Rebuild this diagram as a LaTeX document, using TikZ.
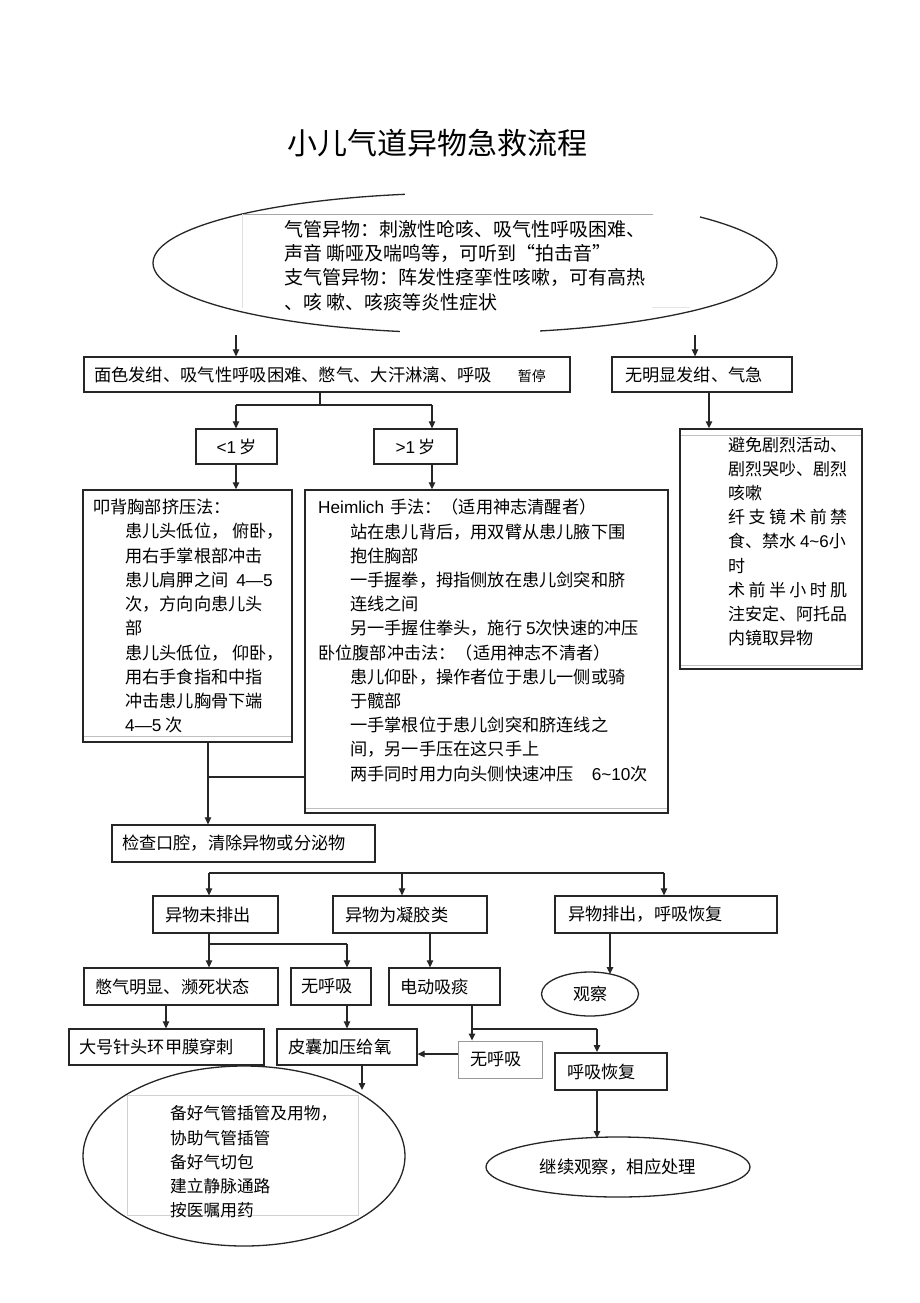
\documentclass[tikz,border=0pt]{standalone}
\usepackage{fontspec}
\usetikzlibrary{arrows.meta,shapes.geometric}
\newfontfamily\hei{Noto Sans CJK SC}
\IfFontExistsTF{FandolSong-Regular.otf}{\newfontfamily\song{FandolSong-Regular.otf}}{\newfontfamily\song{Noto Sans CJK SC}}
\newfontfamily\ar{Liberation Sans}
\newcommand\myfs[1]{\fontsize{#1}{#1}\selectfont}
\begin{document}
\begin{tikzpicture}[x=1pt,y=-1pt,
  box/.style={draw=black!85, line width=1.3pt, inner ysep=0pt, align=left, font=\song\myfs{17.2}},
  arr/.style={draw=black!85, line width=1.2pt, -{Triangle[length=7pt,width=6.5pt]}},
  ln/.style={draw=black!85, line width=1.2pt},
  oval/.style={draw=black!85, line width=1.3pt, ellipse, inner sep=0pt},
  txt/.style={inner sep=0pt, anchor=north west, align=left}]
\useasboundingbox (0,0) rectangle (920,1303);
\fill[white] (0,0) rectangle (920,1303);

% title
\node[font=\hei\myfs{30}, inner sep=0pt] (title) at (437,143) {小儿气道异物急救流程};

% top ellipse
\node[oval, minimum width=624pt, minimum height=140pt] (sym) at (465,263) {};
\fill[white] (405,180) rectangle (700,219);
\fill[white] (400,320) rectangle (540,340);
\draw[gray!70, line width=0.7pt] (242,214) -- (653,214);
\draw[gray!25, line width=0.7pt] (242,214) -- (242,308);
\draw[gray!20, line width=0.7pt] (652,307) -- (690,307);
\node[txt, font=\hei\fontsize{19}{24.3}\selectfont] (symtxt) at (284,220) {%
气管异物：刺激性呛咳、吸气性呼吸困难、\\
声音 嘶哑及喘鸣等，可听到“拍击音”\\
支气管异物：阵发性痉挛性咳嗽，可有高热\\
、咳 嗽、咳痰等炎性症状};

% row 1
\node[box, minimum width=486pt, minimum height=35pt, text width=466pt, inner xsep=10pt, font=\song\myfs{17.3}] (b1) at (327,374.5)
  {\mbox{面色发绀、吸气性呼吸困难、憋气、大汗淋漓、呼吸\hspace{26pt}{\myfs{14}暂停}}};
\node[box, minimum width=180pt, minimum height=35pt, text width=154pt, inner xsep=13pt] (b2) at (702,374.5) {无明显发绀、气急};

% age boxes
\node[box, minimum width=81pt, minimum height=35pt, text width=71pt, inner xsep=5pt, align=center] (lt1) at (236.5,446.5) {{\ar <1}\,岁};
\node[box, minimum width=83pt, minimum height=35pt, text width=73pt, inner xsep=5pt, align=center] (gt1) at (415.5,446.5) {{\ar >1}\,岁};

% method boxes
\node[box, minimum width=209pt, minimum height=252pt, line width=1.5pt] (m1) at (187.5,616) {};
\draw[gray!50, line width=0.8pt] (84,736) -- (291,736);
\node[txt, font=\song\fontsize{17.2}{24.25}\selectfont] (m1txt) at (93,499) {%
叩背胸部挤压法：\\
\hspace*{32pt}患儿头低位， 俯卧，\\
\hspace*{32pt}用右手掌根部冲击\\
\hspace*{32pt}患儿肩胛之间\hspace{8pt}{\ar 4—5}\\
\hspace*{32pt}次，方向向患儿头\\
\hspace*{32pt}部\\
\hspace*{32pt}患儿头低位， 仰卧，\\
\hspace*{32pt}用右手食指和中指\\
\hspace*{32pt}冲击患儿胸骨下端\\
\hspace*{32pt}{\ar 4—5} 次};

\node[box, minimum width=363pt, minimum height=323pt, line width=1.5pt] (m2) at (486.5,651.5) {};
\draw[gray!50, line width=0.8pt] (306,808) -- (667,808);
\node[txt, font=\song\fontsize{17.2}{24.2}\selectfont] (m2txt) at (318,499) {%
{\ar Heimlich}\hspace{6pt}手法：（适用神志清醒者）\\
\hspace*{32pt}站在患儿背后，用双臂从患儿腋下围\\
\hspace*{32pt}抱住胸部\\
\hspace*{32pt}一手握拳，拇指侧放在患儿剑突和脐\\
\hspace*{32pt}连线之间\\
\hspace*{32pt}另一手握住拳头，施行 {\ar 5}次快速的冲压\\
卧位腹部冲击法：（适用神志不清者）\\
\hspace*{32pt}患儿仰卧，操作者位于患儿一侧或骑\\
\hspace*{32pt}于髋部\\
\hspace*{32pt}一手掌根位于患儿剑突和脐连线之\\
\hspace*{32pt}间，另一手压在这只手上\\
\hspace*{32pt}两手同时用力向头侧快速冲压\hspace{18pt}{\ar 6\textasciitilde10}次};

% right column box
\node[box, minimum width=182pt, minimum height=240pt, line width=1.5pt] (rb) at (771,549) {};
\draw[gray!50, line width=0.8pt] (681,435) -- (861,435);
\draw[gray!50, line width=0.8pt] (681,665) -- (861,665);
\node[txt, font=\song\fontsize{17}{24.1}\selectfont] (rbtxt) at (728,437) {%
避免剧烈活动、\\
剧烈哭吵、剧烈\\
咳嗽\\
\makebox[119pt][s]{纤\hfil 支\hfil 镜\hfil 术\hfil 前\hfil 禁}\\
食、禁水 {\ar 4\textasciitilde6}小\\
时\\
\makebox[119pt][s]{术\hfil 前\hfil 半\hfil 小\hfil 时\hfil 肌}\\
注安定、阿托品\\
内镜取异物};

% lower boxes
\node[box, minimum width=263pt, minimum height=37pt, text width=243pt, inner xsep=10pt] (chk) at (243.5,843.5) {检查口腔，清除异物或分泌物};
\node[box, minimum width=125pt, minimum height=37pt, text width=101pt, inner xsep=12pt] (r1) at (215.5,914.5) {异物未排出};
\node[box, minimum width=154pt, minimum height=37pt, text width=130pt, inner xsep=12pt] (r2) at (410,914.5) {异物为凝胶类};
\node[box, minimum width=222pt, minimum height=37pt, text width=196pt, inner xsep=13pt] (r3) at (666,914.5) {异物排出，呼吸恢复};
\node[box, minimum width=194pt, minimum height=37pt, text width=172pt, inner xsep=11pt] (r4a) at (181,986.5) {憋气明显、濒死状态};
\node[box, minimum width=80pt, minimum height=37pt, text width=60pt, inner xsep=10pt] (r4b) at (331,986.5) {无呼吸};
\node[box, minimum width=111pt, minimum height=37pt, text width=89pt, inner xsep=11pt] (r4c) at (444.5,986.5) {电动吸痰};
\node[box, minimum width=195pt, minimum height=36pt, text width=175pt, inner xsep=10pt] (r5a) at (166.5,1047) {大号针头环甲膜穿刺};
\node[box, minimum width=140pt, minimum height=36pt, text width=118pt, inner xsep=11pt] (r5b) at (347,1047) {皮囊加压给氧};
\node[box, draw=gray!80, line width=0.9pt, minimum width=84pt, minimum height=37pt, text width=60pt, inner xsep=12pt] (nb) at (500,1059.5) {无呼吸};
\node[box, line width=2pt, minimum width=112pt, minimum height=37pt, text width=88pt, inner xsep=12pt] (rec) at (611,1071.5) {呼吸恢复};

% ellipses
\node[oval, minimum width=97pt, minimum height=44pt, font=\song\myfs{17}] (obs) at (590,994) {观察};
\node[oval, minimum width=264pt, minimum height=60pt, font=\song\myfs{17.4}] (cont) at (618,1167) {继续观察，相应处理};
\draw[gray!35, line width=0.6pt] (127,1095) rectangle (358,1215);
\node[oval, minimum width=322pt, minimum height=180pt] (big) at (244,1156) {};
\node[txt, font=\song\fontsize{16.7}{24.2}\selectfont] (bigtxt) at (170,1105.5) {%
备好气管插管及用物，\\
协助气管插管\\
备好气切包\\
建立静脉通路\\
按医嘱用药};

% connectors
\coordinate (a1s) at (236,335);
\coordinate (a2s) at (695,335);
\draw[arr] (a1s) -- (b1.north -| a1s);
\draw[arr] (a2s) -- (b2.north -| a2s);

\coordinate (j1) at (320,405);
\coordinate (j1l) at (236,405);
\coordinate (j1r) at (432,405);
\draw[ln] (b1.south -| j1) -- (j1);
\draw[ln] (j1l) -- (j1r);
\draw[arr] (j1l) -- (lt1.north -| j1l);
\draw[arr] (j1r) -- (gt1.north -| j1r);
\draw[arr] (lt1.south -| j1l) -- (m1.north -| j1l);
\draw[arr] (gt1.south -| j1r) -- (m2.north -| j1r);

\coordinate (c6) at (709,400);
\draw[arr] (b2.south -| c6) -- (rb.north -| c6);

\coordinate (j2) at (208,777);
\draw[ln] (m2.west |- j2) -- (j2);
\draw[arr] (m1.south -| j2) -- (chk.north -| j2);

\coordinate (j3a) at (209,873);
\coordinate (j3b) at (402,873);
\coordinate (j3c) at (664,873);
\draw[ln] (j3a) -- (j3c);
\draw[arr] (j3a) -- (r1.north -| j3a);
\draw[arr] (j3b) -- (r2.north -| j3b);
\draw[arr] (j3c) -- (r3.north -| j3c);

\coordinate (j4a) at (209,944);
\coordinate (j4b) at (347,944);
\draw[ln] (r1.south -| j4a) -- (j4a) -- (j4b);
\draw[arr] (j4a) -- (r4a.north -| j4a);
\draw[arr] (j4b) -- (r4b.north -| j4b);

\coordinate (c10) at (430,950);
\draw[arr] (r2.south -| c10) -- (r4c.north -| c10);

\coordinate (obsT) at (610,974);
\draw[arr] (r3.south -| obsT) -- (obsT);

\coordinate (c12) at (166,1010);
\draw[arr] (r4a.south -| c12) -- (r5a.north -| c12);
\draw[arr] (r4b.south -| j4b) -- (r5b.north -| j4b);

\coordinate (j5a) at (472,1029);
\coordinate (j5b) at (597,1029);
\draw[ln] (r4c.south -| j5a) -- (j5a) -- (j5b);
\draw[arr] (j5a) -- (nb.north -| j5a);
\draw[arr] (j5b) -- (rec.north -| j5b);

\coordinate (c15) at (450,1054);
\draw[arr] (nb.west |- c15) -- (r5b.east |- c15);

\coordinate (contT) at (597,1138);
\draw[arr] (rec.south -| contT) -- (contT);

\coordinate (bigT) at (362,1090);
\draw[arr] (r5b.south -| bigT) -- (bigT);
\end{tikzpicture}
\end{document}
